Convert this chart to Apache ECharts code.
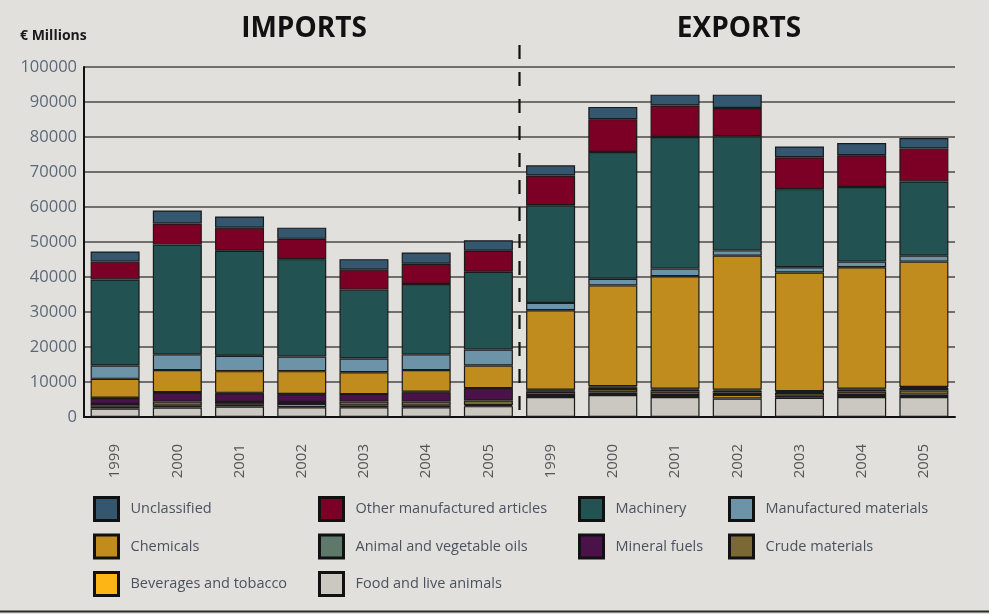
<!DOCTYPE html>
<html>
<head>
<meta charset="utf-8">
<title>Imports and exports</title>
<script src="https://cdn.jsdelivr.net/npm/echarts@6/dist/echarts.min.js"></script>
<style>
  html, body { margin: 0; padding: 0; background: #e1e0dc; }
  #chart { width: 989px; height: 614px; }
</style>
</head>
<body>
<div id="chart"></div>
<script>
// years: 7 imports, then 7 exports
const years = ['1999', '2000', '2001', '2002', '2003', '2004', '2005',
               '1999', '2000', '2001', '2002', '2003', '2004', '2005'];
const yTicks = { min: 0, max: 100000, step: 10000 };

// € millions, imports 1999-2005 then exports 1999-2005
const food        = [2400, 2700, 3000, 2800, 2800, 2800, 3100,   5700, 6300, 5700, 5300, 5500, 5700, 5700];
const beverages   = [500, 500, 500, 900, 500, 400, 300,          600, 700, 600, 1000, 600, 600, 700];
const crude       = [800, 1200, 800, 600, 1100, 1200, 1300,      900, 1000, 1000, 700, 800, 1000, 1200];
const mineral     = [1700, 2600, 2500, 2200, 2000, 2700, 3400,   400, 500, 500, 500, 300, 500, 700];
const oils        = [100, 100, 100, 100, 100, 100, 100,          200, 300, 300, 300, 200, 300, 300];
const chemicals   = [5400, 6300, 6200, 6500, 6300, 6200, 6500,   22700, 28800, 32100, 38300, 33900, 34700, 35800];
const manufMat    = [3800, 4500, 4400, 4200, 3900, 4500, 4600,   2100, 1900, 2200, 1500, 1500, 1600, 1700];
const machinery   = [24600, 31400, 30000, 27800, 19700, 20100, 22200, 27900, 36200, 37600, 32600, 22300, 21300, 21200];
const otherManuf  = [5100, 6000, 6600, 5800, 5700, 5800, 6000,   8500, 9400, 9000, 8100, 9100, 9100, 9400];
const unclassified = [2900, 3700, 3200, 3200, 3000, 3200, 3000,  2900, 3500, 3100, 3800, 3100, 3500, 3000];

// stacking order, bottom to top
const stackSeries = [
  { name: 'Food and live animals',       data: food,         color: '#cbc7c1' },
  { name: 'Beverages and tobacco',       data: beverages,    color: '#fdb515' },
  { name: 'Crude materials',             data: crude,        color: '#7a6835' },
  { name: 'Mineral fuels',               data: mineral,      color: '#4a1248' },
  { name: 'Animal and vegetable oils',   data: oils,         color: '#5e786a' },
  { name: 'Chemicals',                   data: chemicals,    color: '#c18c1e' },
  { name: 'Manufactured materials',      data: manufMat,     color: '#6d93a9' },
  { name: 'Machinery',                   data: machinery,    color: '#225352' },
  { name: 'Other manufactured articles', data: otherManuf,   color: '#7c0026' },
  { name: 'Unclassified',                data: unclassified, color: '#34566f' }
];

// legend columns as laid out under the chart
const legendCols = [
  { left: 93,  items: ['Unclassified', 'Chemicals', 'Beverages and tobacco'] },
  { left: 318, items: ['Other manufactured articles', 'Animal and vegetable oils', 'Food and live animals'] },
  { left: 578, items: ['Machinery', 'Mineral fuels'] },
  { left: 728, items: ['Manufactured materials', 'Crude materials'] }
];

const chart = echarts.init(document.getElementById('chart'));

const series = stackSeries.map(s => ({
  name: s.name,
  type: 'bar',
  stack: 'trade',
  barWidth: 49,
  data: s.data,
  itemStyle: { color: s.color, borderColor: '#1a1a1a', borderWidth: 1.2 },
  emphasis: { disabled: true }
}));

// dashed divider between imports and exports (hidden value axis, slot 7 of 14)
series.push({
  name: 'divider',
  type: 'line',
  xAxisIndex: 1,
  data: [[7, 106300], [7, 0]],
  clip: false,
  symbol: 'none',
  silent: true,
  lineStyle: { color: '#111', width: 2.2, type: [14, 13] },
  z: 5
});

chart.setOption({
  backgroundColor: '#e1e0dc',
  animation: false,
  textStyle: { fontFamily: 'Open Sans' },
  grid: { left: 84, right: 34, top: 67, bottom: 197 },
  xAxis: [
    {
      type: 'category',
      data: years,
      axisLine: { lineStyle: { color: '#111', width: 2 } },
      axisTick: { inside: true, length: 8, lineStyle: { color: '#111', width: 2 } },
      axisLabel: { rotate: 90, margin: 27, interval: 0, color: '#555',
                   fontSize: 15, fontFamily: 'Open Sans' },
      splitLine: { show: false }
    },
    { type: 'value', min: 0, max: 14, show: false }
  ],
  yAxis: {
    type: 'value',
    min: yTicks.min,
    max: yTicks.max,
    interval: yTicks.step,
    axisLine: { show: true, lineStyle: { color: '#111', width: 2 } },
    axisTick: { show: false },
    axisLabel: { margin: 7, color: '#5b6878', fontSize: 16.5, fontFamily: 'Open Sans',
                 padding: [0, 0, 8, 0], formatter: v => String(v) },
    splitLine: { lineStyle: { color: '#4a4a4a', width: 1.5 } }
  },
  legend: legendCols.map(col => ({
    data: col.items,
    orient: 'vertical',
    left: col.left,
    top: 496,
    padding: 0,
    itemWidth: 24,
    itemHeight: 23,
    itemGap: 11.5,
    selectedMode: false,
    icon: 'rect',
    itemStyle: { borderColor: '#111', borderWidth: 3 },
    textStyle: { color: '#4a5260', fontSize: 14.5, fontFamily: 'Open Sans',
                 lineHeight: 23, padding: [0, 0, 0, 7] }
  })),
  graphic: [
    { type: 'text', left: 20, top: 29,
      style: { text: '€ Millions', fill: '#1a1a1a', font: 'bold 14px "Open Sans"' } },
    { type: 'text', x: 304, y: 29,
      style: { text: 'IMPORTS', fill: '#111', font: 'bold 28px "Open Sans"',
               textAlign: 'center', textVerticalAlign: 'middle' } },
    { type: 'text', x: 739, y: 29,
      style: { text: 'EXPORTS', fill: '#111', font: 'bold 28px "Open Sans"',
               textAlign: 'center', textVerticalAlign: 'middle' } },
    { type: 'line', shape: { x1: 0, y1: 611.5, x2: 989, y2: 611.5 },
      style: { stroke: '#2a2a2a', lineWidth: 2 } }
  ],
  series
});

window.addEventListener('resize', () => chart.resize());
</script>
</body>
</html>
